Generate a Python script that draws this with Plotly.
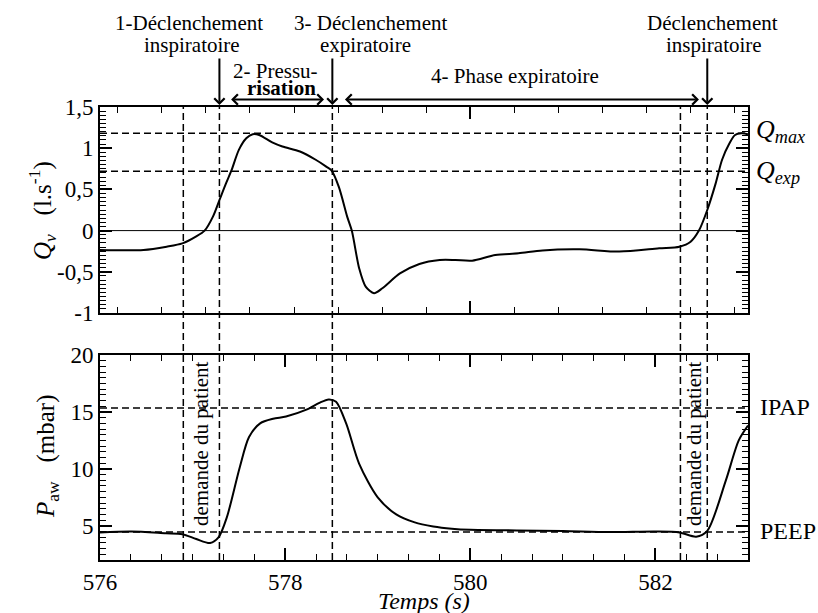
import plotly.graph_objects as go

W, H = 818, 613

# ---- data ----
t_flow = [576.00, 576.47, 576.72, 576.89, 577.04, 577.13, 577.22, 577.29, 577.36, 577.42,
          577.50, 577.58, 577.65, 577.72, 577.86, 577.97, 578.16, 578.33, 578.44, 578.50,
          578.58, 578.67, 578.72, 578.80, 578.87, 578.96, 579.05, 579.24, 579.45, 579.67,
          579.84, 580.02, 580.27, 580.52, 580.78, 581.18, 581.61, 582.04, 582.26, 582.38,
          582.47, 582.56, 582.65, 582.72, 582.80, 582.86, 582.93, 583.00]
q_flow = [-0.235, -0.235, -0.195, -0.155, -0.07, 0.0, 0.17, 0.37, 0.57, 0.73,
          0.98, 1.12, 1.17, 1.16, 1.07, 1.02, 0.96, 0.86, 0.78, 0.73,
          0.53, 0.17, 0.0, -0.46, -0.68, -0.76, -0.70, -0.52, -0.405, -0.357,
          -0.357, -0.365, -0.296, -0.276, -0.24, -0.227, -0.255, -0.215, -0.195, -0.135,
          0.0, 0.25, 0.57, 0.86, 1.06, 1.16, 1.18, 1.17]

t_paw = [576.00, 576.34, 576.71, 576.89, 577.04, 577.19, 577.28, 577.37, 577.51, 577.61,
         577.73, 577.87, 578.01, 578.23, 578.37, 578.47, 578.55, 578.66, 578.80, 579.00,
         579.20, 579.40, 579.60, 579.80, 580.00, 580.50, 581.00, 581.50, 582.00, 582.26,
         582.44, 582.56, 582.76, 582.90, 583.00]
p_aw = [4.42, 4.50, 4.35, 4.27, 3.84, 3.49, 3.98, 5.74, 10.15, 12.8,
        14.0, 14.4, 14.6, 15.2, 15.8, 16.1, 15.9, 13.97, 10.44, 7.5,
        6.0, 5.3, 4.95, 4.75, 4.65, 4.6, 4.55, 4.45, 4.5, 4.42,
        4.05, 4.56, 8.97, 12.5, 13.8]

q_max = 1.18
q_exp = 0.72
ipap = 15.35
peep = 4.45

event_times = [576.90, 577.29, 578.51, 582.27, 582.56]
trigger_times = [577.29, 578.51, 582.56]
pressur_span = [577.40, 578.42]
expi_span = [578.63, 582.47]

x_ticks = [576, 578, 580, 582]
x_ticktext = ["576", "578", "580", "582"]
q_ticks = [-1, -0.5, 0, 0.5, 1, 1.5]
q_ticktext = ["-1", "-0,5", "0", "0,5", "1", "1,5"]
p_ticks = [5, 10, 15, 20]
p_ticktext = ["5", "10", "15", "20"]

FONT = "Liberation Serif"


def px(x):
    return x / W


def py(y):
    return 1 - y / H


xdom = [px(100), px(748)]
ydom_top = [py(313), py(107)]
ydom_bot = [py(560), py(355)]

fig = go.Figure()
fig.add_trace(go.Scatter(x=t_flow, y=q_flow, mode="lines", xaxis="x", yaxis="y",
                         line=dict(color="black", width=2, shape="spline", smoothing=0.8),
                         showlegend=False))
fig.add_trace(go.Scatter(x=t_paw, y=p_aw, mode="lines", xaxis="x2", yaxis="y2",
                         line=dict(color="black", width=2, shape="spline", smoothing=0.8),
                         showlegend=False))

axis_common = dict(showline=True, linewidth=2, linecolor="black", mirror="ticks",
                   ticks="inside", tickwidth=1.5, tickcolor="black", showgrid=False,
                   zeroline=False, automargin=False,
                   tickfont=dict(family=FONT, size=23, color="black"))

fig.update_layout(
    template="none",
    width=W, height=H, margin=dict(l=0, r=0, t=0, b=0, pad=0),
    paper_bgcolor="white", plot_bgcolor="white",
    font=dict(family=FONT, color="black"),
    xaxis=dict(domain=xdom, anchor="y", range=[576, 583], tickmode="array", tickvals=[580],
               ticklen=12, showticklabels=False,
               minor=dict(ticks="inside", ticklen=6, tickwidth=1, tickcolor="black",
                          tickmode="linear", tick0=580, dtick=0.476, showgrid=False),
               **axis_common),
    xaxis2=dict(domain=xdom, anchor="y2", range=[576, 583], tickmode="array",
                tickvals=x_ticks, ticktext=x_ticktext, ticklen=12,
                minor=dict(ticks="inside", ticklen=6, tickwidth=1, tickcolor="black",
                           tickmode="linear", tick0=576, dtick=1 / 3, showgrid=False),
                **axis_common),
    yaxis=dict(domain=ydom_top, anchor="x", range=[-1, 1.5], tickmode="array",
               tickvals=q_ticks, ticktext=q_ticktext, ticklen=12,
               minor=dict(ticks="inside", ticklen=6, tickwidth=1, tickcolor="black",
                          tickmode="linear", tick0=0, dtick=0.05, showgrid=False),
               **axis_common),
    yaxis2=dict(domain=ydom_bot, anchor="x2", range=[2, 20], tickmode="array",
                tickvals=p_ticks, ticktext=p_ticktext, ticklen=12,
                minor=dict(ticks="inside", ticklen=6, tickwidth=1, tickcolor="black",
                           tickmode="linear", tick0=0, dtick=0.5, showgrid=False),
                **axis_common),
)

DASH = "7px,4px"
shapes = []
shapes.append(dict(type="line", xref="x", yref="y", x0=576, x1=583, y0=0, y1=0,
                   line=dict(color="black", width=1)))
for yv in [q_max, q_exp]:
    shapes.append(dict(type="line", xref="x", yref="y", x0=576, x1=583, y0=yv, y1=yv,
                       line=dict(color="black", width=1.5, dash=DASH)))
for yv in [ipap, peep]:
    shapes.append(dict(type="line", xref="x2", yref="y2", x0=576, x1=583, y0=yv, y1=yv,
                       line=dict(color="black", width=1.5, dash=DASH)))
for tv in event_times:
    shapes.append(dict(type="line", xref="x2", yref="paper", x0=tv, x1=tv,
                       y0=ydom_bot[0], y1=ydom_top[1],
                       line=dict(color="black", width=1.5, dash=DASH)))
fig.update_layout(shapes=shapes)

ann = []
# down arrows
for tv in trigger_times:
    ann.append(dict(x=tv, y=py(105), xref="x", yref="paper", ax=0, ay=-48,
                    axref="pixel", ayref="pixel", text="", showarrow=True,
                    arrowhead=4, arrowsize=1, arrowwidth=2, arrowcolor="black"))
# double arrows
for span in [pressur_span, expi_span]:
    ann.append(dict(x=span[1], y=py(99.5), xref="x", yref="paper", ax=span[0], ay=0,
                    axref="x", ayref="pixel", text="", showarrow=True,
                    arrowside="end+start", arrowhead=4, startarrowhead=4,
                    arrowsize=1, startarrowsize=1, arrowwidth=2, arrowcolor="black"))


def txt(x, y, s, size=21, angle=0, xanchor="center"):
    return dict(x=px(x), y=py(y), xref="paper", yref="paper", text=s, showarrow=False,
                xanchor=xanchor, yanchor="middle", textangle=angle,
                font=dict(family=FONT, size=size, color="black"))


ann += [
    txt(189, 23, "1-Déclenchement"),
    txt(192, 45, "inspiratoire"),
    txt(371, 23, "3- Déclenchement"),
    txt(365, 45, "expiratoire"),
    txt(712, 23, "Déclenchement"),
    txt(714, 45, "inspiratoire"),
    txt(275, 71, "2- Pressu-"),
    txt(281, 88, "<b>risation</b>"),
    txt(515, 76, "4- Phase expiratoire"),
    txt(754, 131, "<i>Q</i><sub><i>max</i></sub>", size=26, xanchor="left"),
    txt(754, 172, "<i>Q</i><sub><i>exp</i></sub>", size=26, xanchor="left"),
    txt(758, 407, "IPAP", size=24, xanchor="left"),
    txt(758, 531, "PEEP", size=24, xanchor="left"),
    txt(42, 211, "<i>Q</i><sub><i>v</i></sub>\u00a0\u00a0\u00a0(l.s<sup>-1</sup>)", size=25, angle=-90),
    txt(47, 457, "<i>P</i><sub>aw</sub>\u00a0\u00a0\u00a0(mbar)", size=25, angle=-90),
    txt(424, 601, "<i>Temps (s)</i>", size=24),
    txt(201, 444, "demande du patient", angle=-90),
    txt(694, 444, "demande du patient", angle=-90),
]
fig.update_layout(annotations=ann)

fig.write_html("out.html")
